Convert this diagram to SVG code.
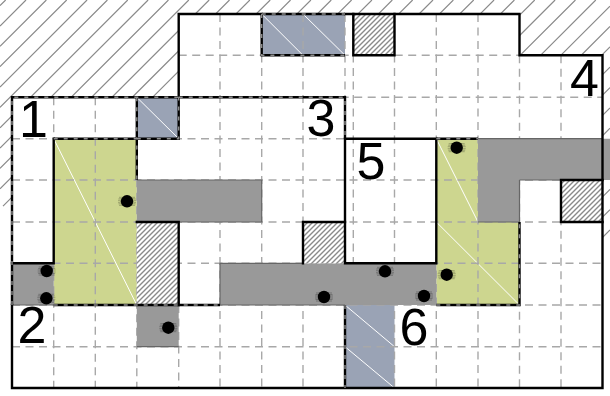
<svg xmlns="http://www.w3.org/2000/svg" xmlns:xlink="http://www.w3.org/1999/xlink" width="610" height="396" viewBox="0 0 610 396">
<style>
.hatch{stroke:#8a8a8a;stroke-width:1.2;fill:none}
.grid{stroke:#a8a8a8;stroke-width:1.4;stroke-dasharray:8 5.5;fill:none}
.gray{fill:#999999}
.blue{fill:#9aa3b5}
.green{fill:#cdd68f}
.fine{fill:url(#fine)}
.white{stroke:#ffffff;stroke-width:1;fill:none}
.wall{stroke:#000000;stroke-width:2.4;fill:none;stroke-linecap:square}
.dwall{stroke:#000000;stroke-width:2.4;fill:none}
.dover{stroke:#8c8c8c;stroke-width:1.4;stroke-dasharray:4 6;fill:none}
.edge{stroke:#666666;stroke-width:1.2;fill:none}
.num{font-family:"Liberation Sans",Arial,sans-serif;font-size:52px;fill:#000000}
</style>
<defs>
<pattern id="fine" patternUnits="userSpaceOnUse" width="5" height="5">
<rect width="5" height="5" fill="#ffffff"/>
<path d="M-1 1L1 -1M-1 6L6 -1M4 6L6 4" stroke="#8a8a8a" stroke-width="1.4" fill="none"/>
</pattern>
<g id="dot">
<path d="M-8 -4H8M-8.5 -2.5H8.5M-9 -1H9M-9 1H9M-8.5 2.5H8.5M-8 4H8" stroke="#000" stroke-width="0.5" opacity="0.5"/>
<circle r="6.2" fill="#000"/>
</g>
</defs>

<g id="outside-hatch" class="hatch">
<path d="M5.65 0L0 5.65M26 0L0 26M46.35 0L0 46.35M66.7 0L0 66.7M87.05 0L0 87.05M107.4 0L0 107.4M127.75 0L0 127.75M148.1 0L0 148.1M168.45 0L0 168.45M188.8 0L0 188.8M209.15 0L3 206.15M229.5 0L130 99.5M249.85 0L150 99.85"/>
<path d="M270.2 0L250 20.2M290.55 0L270 20.55M310.9 0L290 20.9M331.25 0L310 21.25M351.6 0L330 21.6M371.95 0L350 21.95M392.3 0L370 22.3M412.65 0L390 22.65M433 0L410 23M453.35 0L430 23.35M473.7 0L450 23.7M494.05 0L470 24.05M514.4 0L490 24.4M534.75 0L500 34.75M555.1 0L500 55.1M575.45 0L510 65.45M595.8 0L530 65.8M610 6.15L550 66.15M610 26.5L570 66.5M610 46.85L590 66.85M610 67.2L598 79.2M610 87.55L598 99.55M610 107.9L598 119.9M610 128.25L598 140.25M610 189.3L598 201.3M610 209.65L598 221.65M610 230L598 242"/>
</g>

<path id="floor" fill="#ffffff" d="M12 97.3H178.7V14H519.5V55.3H602.5V388H12Z"/>

<g id="coloured-regions">
<rect class="green" x="53.7" y="138.7" width="83.1" height="166.3"/>
<rect class="green" x="436.3" y="138.7" width="41.7" height="83.3"/>
<rect class="green" x="436.3" y="222" width="83.2" height="83"/>
<rect class="blue" x="261.7" y="14" width="83.3" height="41.3"/>
<rect class="blue" x="136.8" y="97.3" width="41.9" height="41.4"/>
<rect class="blue" x="345" y="305" width="49.5" height="83"/>
<path class="white" d="M53.7 138.7L136.8 305M436.3 138.7L478 222M436.3 222L519.5 305M136.8 97.3L178.7 138.7M261.7 14L303 55.3M303 14L345 55.3M345 305L394.5 346.7M345 346.7L394.5 388"/>
</g>

<g id="grid" class="grid">
<path d="M178.7 55.3H602.5M12 138.7H602.5M12 180H602.5M12 222H602.5M12 263.3H602.5M12 346.7H602.5M178.7 97.3H602.5M12 305H602.5"/>
<path d="M53.7 97.3V388M95.3 97.3V388M136.8 138.7V388M178.7 305V388M220 14V388M261.7 14V388M303 14V388M345 14V138M353.3 14V263M394.5 14V388M436.3 14V388M478 14V388M519.5 55.3V388M561 55.3V388"/>
</g>

<g id="gray-regions">
<rect class="gray" x="136.8" y="180" width="124.9" height="42"/>
<rect class="gray" x="12" y="263.3" width="41.7" height="41.7"/>
<rect class="gray" x="136.8" y="305" width="41.9" height="41.7"/>
<rect class="gray" x="220" y="263.3" width="216.3" height="41.7"/>
<path class="gray" d="M478 138.7H610V180H519.5V222H478Z"/>
<path class="edge" d="M136.8 180H261.7V222H136.8M12 305H53.7M136.8 346.7H178.7M220 305V263.3H303M220 305H345M478 138.7H602.5M519.5 180H561M519.5 180V222H478"/>
</g>

<g id="hatched-boxes">
<rect class="fine" x="353.3" y="14" width="41.2" height="41.3"/>
<rect class="fine" x="561" y="180" width="41.5" height="42"/>
<rect class="fine" x="136.8" y="222" width="41.9" height="83"/>
<rect class="fine" x="303" y="222" width="42" height="41.3"/>
</g>

<g id="walls">
<path class="wall" d="M178.7 97.3V14H261.7M345 14H519.5V55.3H602.5V388H12V305"/>
<path class="wall" d="M345 138.7H436.3V263.3H345V138.7"/>
<path class="wall" d="M353.3 14V55.3H394.5V14"/>
<path class="wall" d="M561 222V180H602.5M561 222H602.5"/>
<path class="wall" d="M136.8 222H178.7V305M303 263.3V222H345"/>
<path class="wall" d="M12 263.3H53.7V138.7"/>
<path class="dwall" d="M12 305V97.3H178.7M178.7 97.3H345V138.7M53.7 138.7H136.8V180M136.8 138.7H178.7V97.3M136.8 97.3V138.7M53.7 305H220M436.3 305H519.5V222M436.3 138.7H478M261.7 14H345M261.7 14V55.3H345M345 305V388"/>
<path class="dover" d="M12 305V97.3H178.7M178.7 97.3H345V138.7M53.7 138.7H136.8V180M136.8 138.7H178.7V97.3M136.8 97.3V138.7M53.7 305H220M436.3 305H519.5V222M436.3 138.7H478M261.7 14H345M261.7 14V55.3H345M345 305V388"/>
</g>

<g id="dots">
<use xlink:href="#dot" href="#dot" x="127" y="201.3"/>
<use xlink:href="#dot" href="#dot" x="46.7" y="271"/>
<use xlink:href="#dot" href="#dot" x="46.3" y="298.3"/>
<use xlink:href="#dot" href="#dot" x="168.3" y="327.7"/>
<use xlink:href="#dot" href="#dot" x="324" y="297"/>
<use xlink:href="#dot" href="#dot" x="385" y="271.3"/>
<use xlink:href="#dot" href="#dot" x="424" y="296"/>
<use xlink:href="#dot" href="#dot" x="446.7" y="274.7"/>
<use xlink:href="#dot" href="#dot" x="456.7" y="147.7"/>
</g>

<g id="labels">
<text class="num" x="19" y="137">1</text>
<text class="num" x="17.5" y="343">2</text>
<text class="num" x="306.5" y="135.5">3</text>
<text class="num" x="570" y="95.5">4</text>
<text class="num" x="356.5" y="178.5">5</text>
<text class="num" x="399.5" y="344.5">6</text>
</g>
</svg>
